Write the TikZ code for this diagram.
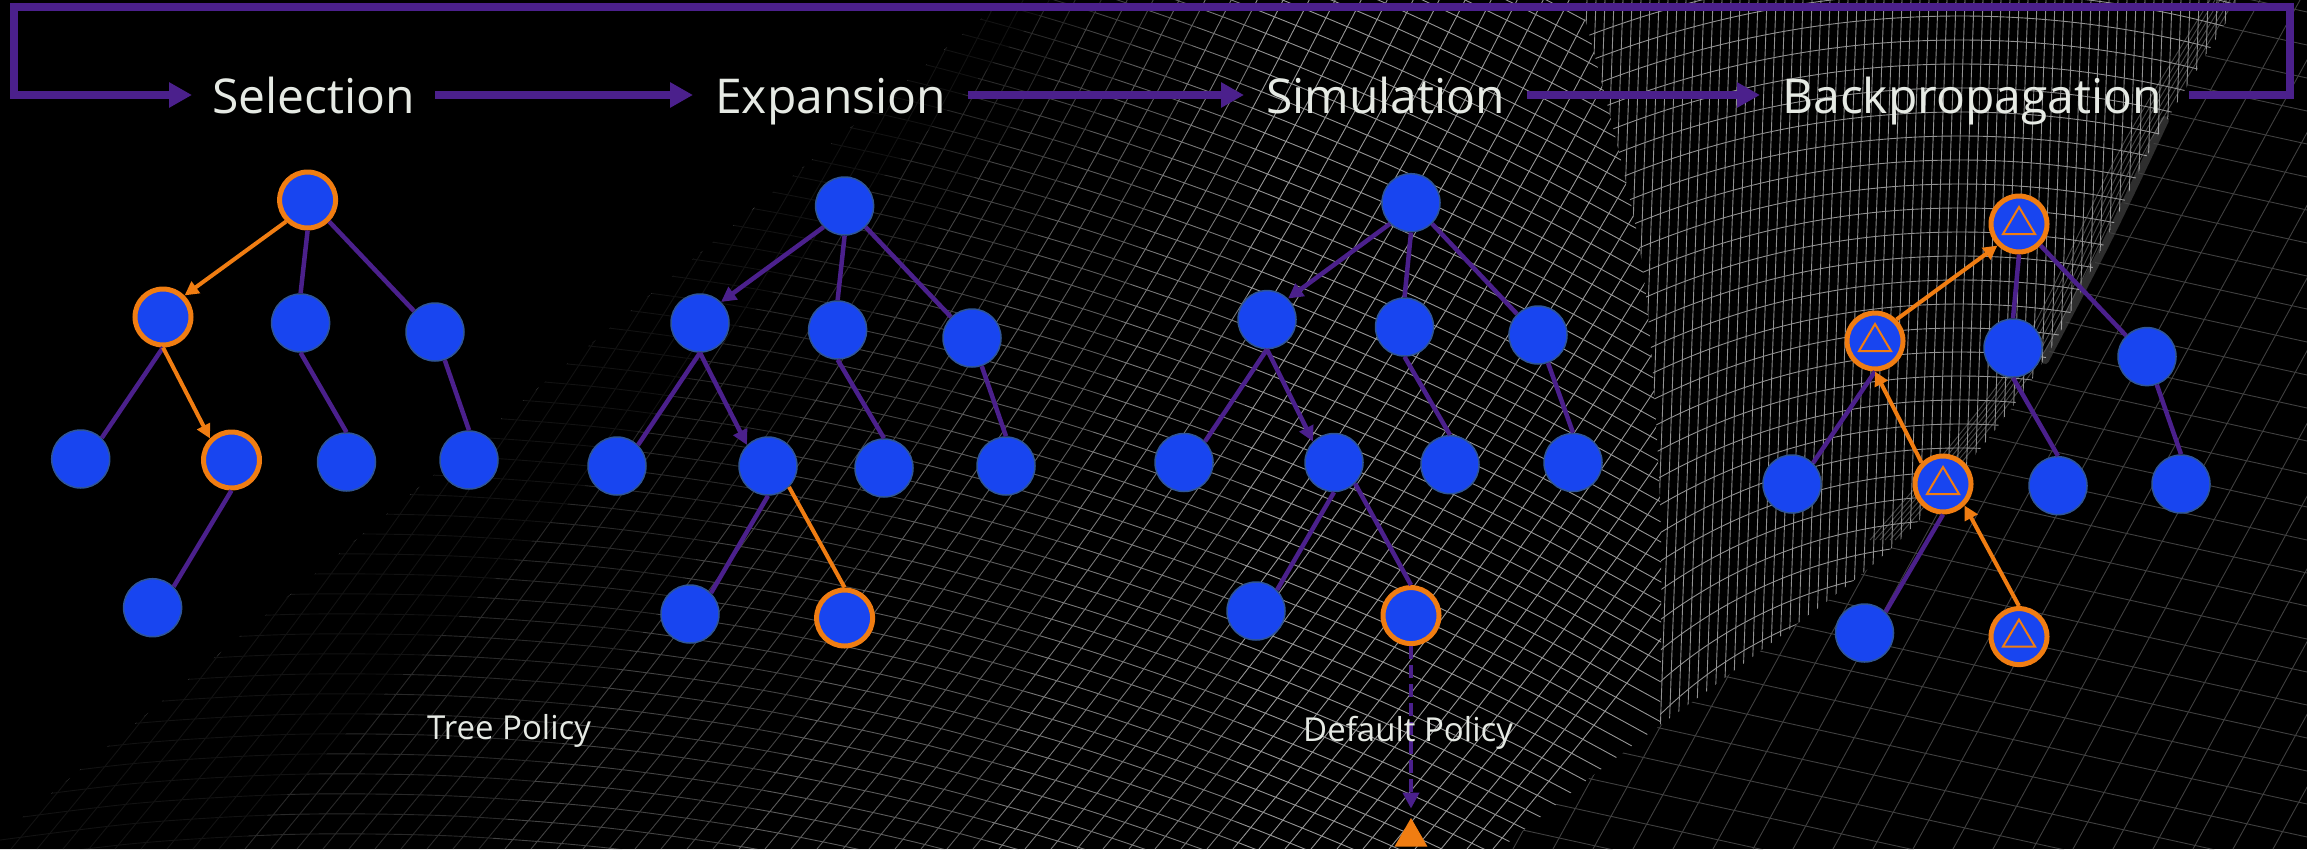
\documentclass[tikz,border=0pt]{standalone}
\usepackage{fontspec}
\setmainfont{Open Sans}
\usetikzlibrary{arrows.meta,shapes.geometric}

\definecolor{treeblue}{RGB}{24,69,240}
\definecolor{treerim}{RGB}{47,85,151}
\definecolor{treeorange}{RGB}{240,125,18}
\definecolor{flowpurple}{RGB}{75,32,140}
\definecolor{labelgrey}{RGB}{230,234,228}
\definecolor{meshA}{RGB}{150,150,150}
\definecolor{meshB}{RGB}{145,145,145}
\definecolor{meshC}{RGB}{64,64,64}

\tikzset{
  vertex/.style={circle, fill=treeblue, draw=treerim, line width=1.5pt,
    minimum size=58pt, inner sep=0pt},
  chosen/.style={vertex, draw=treeorange, line width=5pt, minimum size=56pt},
  backed/.style={chosen, path picture={
    \draw[treeorange, line width=2pt]
      ([yshift=17pt]path picture bounding box.center)
      -- ++(16pt,-27pt) -- ++(-32pt,0pt) -- cycle;}},
  link/.style={flowpurple, line width=4.5pt},
  linkarrow/.style={link, -{Triangle[length=15pt,width=15pt]}},
  walk/.style={treeorange, line width=4pt, -{Triangle[length=14pt,width=14pt]}},
  walkline/.style={treeorange, line width=4pt},
  rollout/.style={flowpurple, line width=4.5pt, dash pattern=on 13pt off 6pt,
    -{Triangle[length=16pt,width=16pt]}},
  steplabel/.style={text=labelgrey, font=\fontsize{48}{52}\selectfont,
    inner sep=0pt, text height=36pt, text depth=0pt},
  policylabel/.style={text=labelgrey, font=\fontsize{33}{36}\selectfont, inner sep=0pt},
  flowline/.style={flowpurple, line width=8pt},
  flowarrow/.style={flowline, -{Triangle[length=23pt,width=24pt]}},
  meshline/.style={line width=0.9pt}
}

\begin{document}
\begin{tikzpicture}[x=1pt, y=-1pt]
\useasboundingbox (0,0) rectangle (2307,849);
\fill[black] (0,0) rectangle (2307,849);

% wire surface: the rising sheet on the left
\begin{scope}
  \clip (-15,849) -- (1004,0) -- (1580,0)
    -- plot[smooth] coordinates {(1580,0) (1640,250) (1660,500) (1660,725)}
    -- plot[smooth] coordinates {(1660,725) (1600,770) (1500,849)} -- cycle;
  \foreach \k in {0,...,58}
    \draw[meshline, meshA] plot[domain=0:849, samples=9, smooth, variable=\t]
      ({-15+26*\k+0.84*\t-0.0002*\t*\t},{849-\t});
  \foreach \k in {-19,...,44}
    \draw[meshline, meshA] plot[domain=-20:1700, samples=12, smooth, variable=\u]
      (\u,{20*\k+0.15*(\u-700)+0.00022*(\u-700)*(\u-700)});
\end{scope}
% darken the sheet towards its lower left edge
\foreach \k/\o in {0/0.88,1/0.72,2/0.55,3/0.38,4/0.2}
  \fill[black, opacity=\o] ({1004+50*\k},0) -- ({1054+50*\k},0)
    -- ({235+250*\k},849) -- ({-15+250*\k},849) -- cycle;

% the steep wall
\begin{scope}
  \clip plot[smooth] coordinates {(2240,0) (2150,150) (2040,367) (1900,540) (1739,667) (1660,725)}
    -- plot[smooth] coordinates {(1660,725) (1660,500) (1640,250) (1580,0)} -- cycle;
  \foreach \k in {0,...,76}
    \draw[meshline, meshB] ({1560+9*\k},0) -- ({1530+9*\k},849);
  \foreach \r in {380,404,...,1052}
    \draw[meshline, meshB] (1960,1020) circle[radius=\r pt];
  % lines crowding along the fold
  \foreach \s in {5,10,...,30}
    \draw[meshline, meshB, opacity=0.5] plot[smooth] coordinates
      {({2240-\s},0) ({2150-\s},150) ({2040-\s},367) ({1900-\s},540)};
\end{scope}
\draw[white, opacity=0.18, line width=8pt, line cap=round]
  plot[smooth] coordinates {(2165,120) (2110,235) (2045,360)};

% the flat floor behind the fold
\begin{scope}
  \clip plot[smooth] coordinates {(2240,0) (2150,150) (2040,367) (1900,540) (1739,667) (1600,770) (1500,849)}
    -- (2307,849) -- (2307,0) -- cycle;
  \foreach \k in {-4,...,28}
    \draw[meshline, meshC] (1500,{33*\k-66}) -- (2307,{33*\k+111});
  \foreach \k in {0,...,32}
    \draw[meshline, meshC] ({1033+40*\k},849) -- ({1500+40*\k},0);
\end{scope}

% the four phases
\node[steplabel, anchor=base west] (sel) at (212,113) {Selection};
\node[steplabel, anchor=base west] (exp) at (715,113) {Expansion};
\node[steplabel, anchor=base west] (sim) at (1266,113) {Simulation};
\node[steplabel, anchor=base west] (bp) at (1782,113) {Backpropagation};
\coordinate (loopNE) at (2290,7);
\coordinate (loopNW) at (14,7);
\draw[flowarrow, shorten <=20pt, shorten >=22pt] (sel) -- (exp);
\draw[flowarrow, shorten <=22pt, shorten >=22pt] (exp) -- (sim);
\draw[flowarrow, shorten <=22pt, shorten >=22pt] (sim) -- (bp);
\draw[flowarrow, shorten >=20pt] ([xshift=27pt]bp.east) -| (loopNE) -- (loopNW) |- (sel.west);

% selection tree
\node[chosen] (s0) at (307.6,200) {};
\node[chosen] (s1) at (163,317) {};
\node[vertex] (s2) at (300.6,323) {};
\node[vertex] (s3) at (435,332) {};
\node[vertex] (s4) at (80.7,459) {};
\node[chosen] (s5) at (231.5,460) {};
\node[vertex] (s6) at (346.5,462) {};
\node[vertex] (s7) at (469,460) {};
\node[vertex] (s8) at (152.6,607.7) {};
\draw[walk] (s0.south west) -- (s1.north east);
\draw[link] (s0.south) -- (s2.north);
\draw[link] (s0.south east) -- (s3.north west);
\draw[link] (s1.south) -- (s4.north east);
\draw[walk] (s1.south) -- (s5.north west);
\draw[link] (s2.south) -- (s6.north);
\draw[link] (s3) -- (s7.north);
\draw[link] (s5.south) -- (s8.north east);

% expansion tree
\node[vertex] (e0) at (844.6,206) {};
\node[vertex] (e1) at (700,323) {};
\node[vertex] (e2) at (837.6,330) {};
\node[vertex] (e3) at (972,338) {};
\node[vertex] (e4) at (617,466) {};
\node[vertex] (e5) at (768,466) {};
\node[vertex] (e6) at (884,468) {};
\node[vertex] (e7) at (1006,466) {};
\node[vertex] (e8) at (690,614) {};
\node[chosen] (e9) at (844.6,618) {};
\draw[linkarrow] (e0.south west) -- (e1.north east);
\draw[link] (e0.south) -- (e2.north);
\draw[link] (e0.south east) -- (e3.north west);
\draw[link] (e1.south) -- (e4.north east);
\draw[linkarrow] (e1.south) -- (e5.north west);
\draw[link] (e2.south) -- (e6.north);
\draw[link] (e3) -- (e7.north);
\draw[link] (e5.south) -- (e8.north east);
\draw[walkline] (e5.south east) -- (e9.north);

% simulation tree
\node[vertex] (m0) at (1411,202.7) {};
\node[vertex] (m1) at (1267,319.6) {};
\node[vertex] (m2) at (1404.5,327) {};
\node[vertex] (m3) at (1538,335) {};
\node[vertex] (m4) at (1184,462.5) {};
\node[vertex] (m5) at (1334,462.5) {};
\node[vertex] (m6) at (1450,464.7) {};
\node[vertex] (m7) at (1573,462.5) {};
\node[vertex] (m8) at (1256,611) {};
\node[chosen] (m9) at (1411,615.6) {};
\node[regular polygon, regular polygon sides=3, fill=treeorange,
  minimum size=38pt, inner sep=0pt] (leaf) at (1411,837) {};
\draw[linkarrow] (m0.south west) -- (m1.north east);
\draw[link] (m0.south) -- (m2.north);
\draw[link] (m0.south east) -- (m3.north west);
\draw[link] (m1.south) -- (m4.north east);
\draw[linkarrow] (m1.south) -- (m5.north west);
\draw[link] (m2.south) -- (m6.north);
\draw[link] (m3) -- (m7.north);
\draw[link] (m5.south) -- (m8.north east);
\draw[link] (m5.south east) -- (m9.north);
\draw[rollout, shorten >=9pt] (m9.south) -- (leaf.north);

% backpropagation tree
\node[backed] (b0) at (2019,224) {};
\node[backed] (b1) at (1875,341) {};
\node[vertex] (b2) at (2013,348) {};
\node[vertex] (b3) at (2147,356.6) {};
\node[vertex] (b4) at (1792,484) {};
\node[backed] (b5) at (1943,484) {};
\node[vertex] (b6) at (2058,485.7) {};
\node[vertex] (b7) at (2181,484) {};
\node[vertex] (b8) at (1864.5,633) {};
\node[backed] (b9) at (2019,636.6) {};
\draw[walk] (b1.north east) -- (b0.south west);
\draw[link] (b0.south) -- (b2.north);
\draw[link] (b0.south east) -- (b3.north west);
\draw[link] (b1.south) -- (b4.north east);
\draw[walk] (b5.north west) -- (b1.south);
\draw[link] (b2.south) -- (b6.north);
\draw[link] (b3) -- (b7.north);
\draw[walk] (b9.north) -- (b5.south east);
\draw[link] (b5.south) -- (b8.north east);

% policies
\node[policylabel, anchor=base west] (treepol) at (427,739) {Tree Policy};
\node[policylabel, anchor=base west] (defpol) at (1303,741) {Default Policy};
\end{tikzpicture}
\end{document}
